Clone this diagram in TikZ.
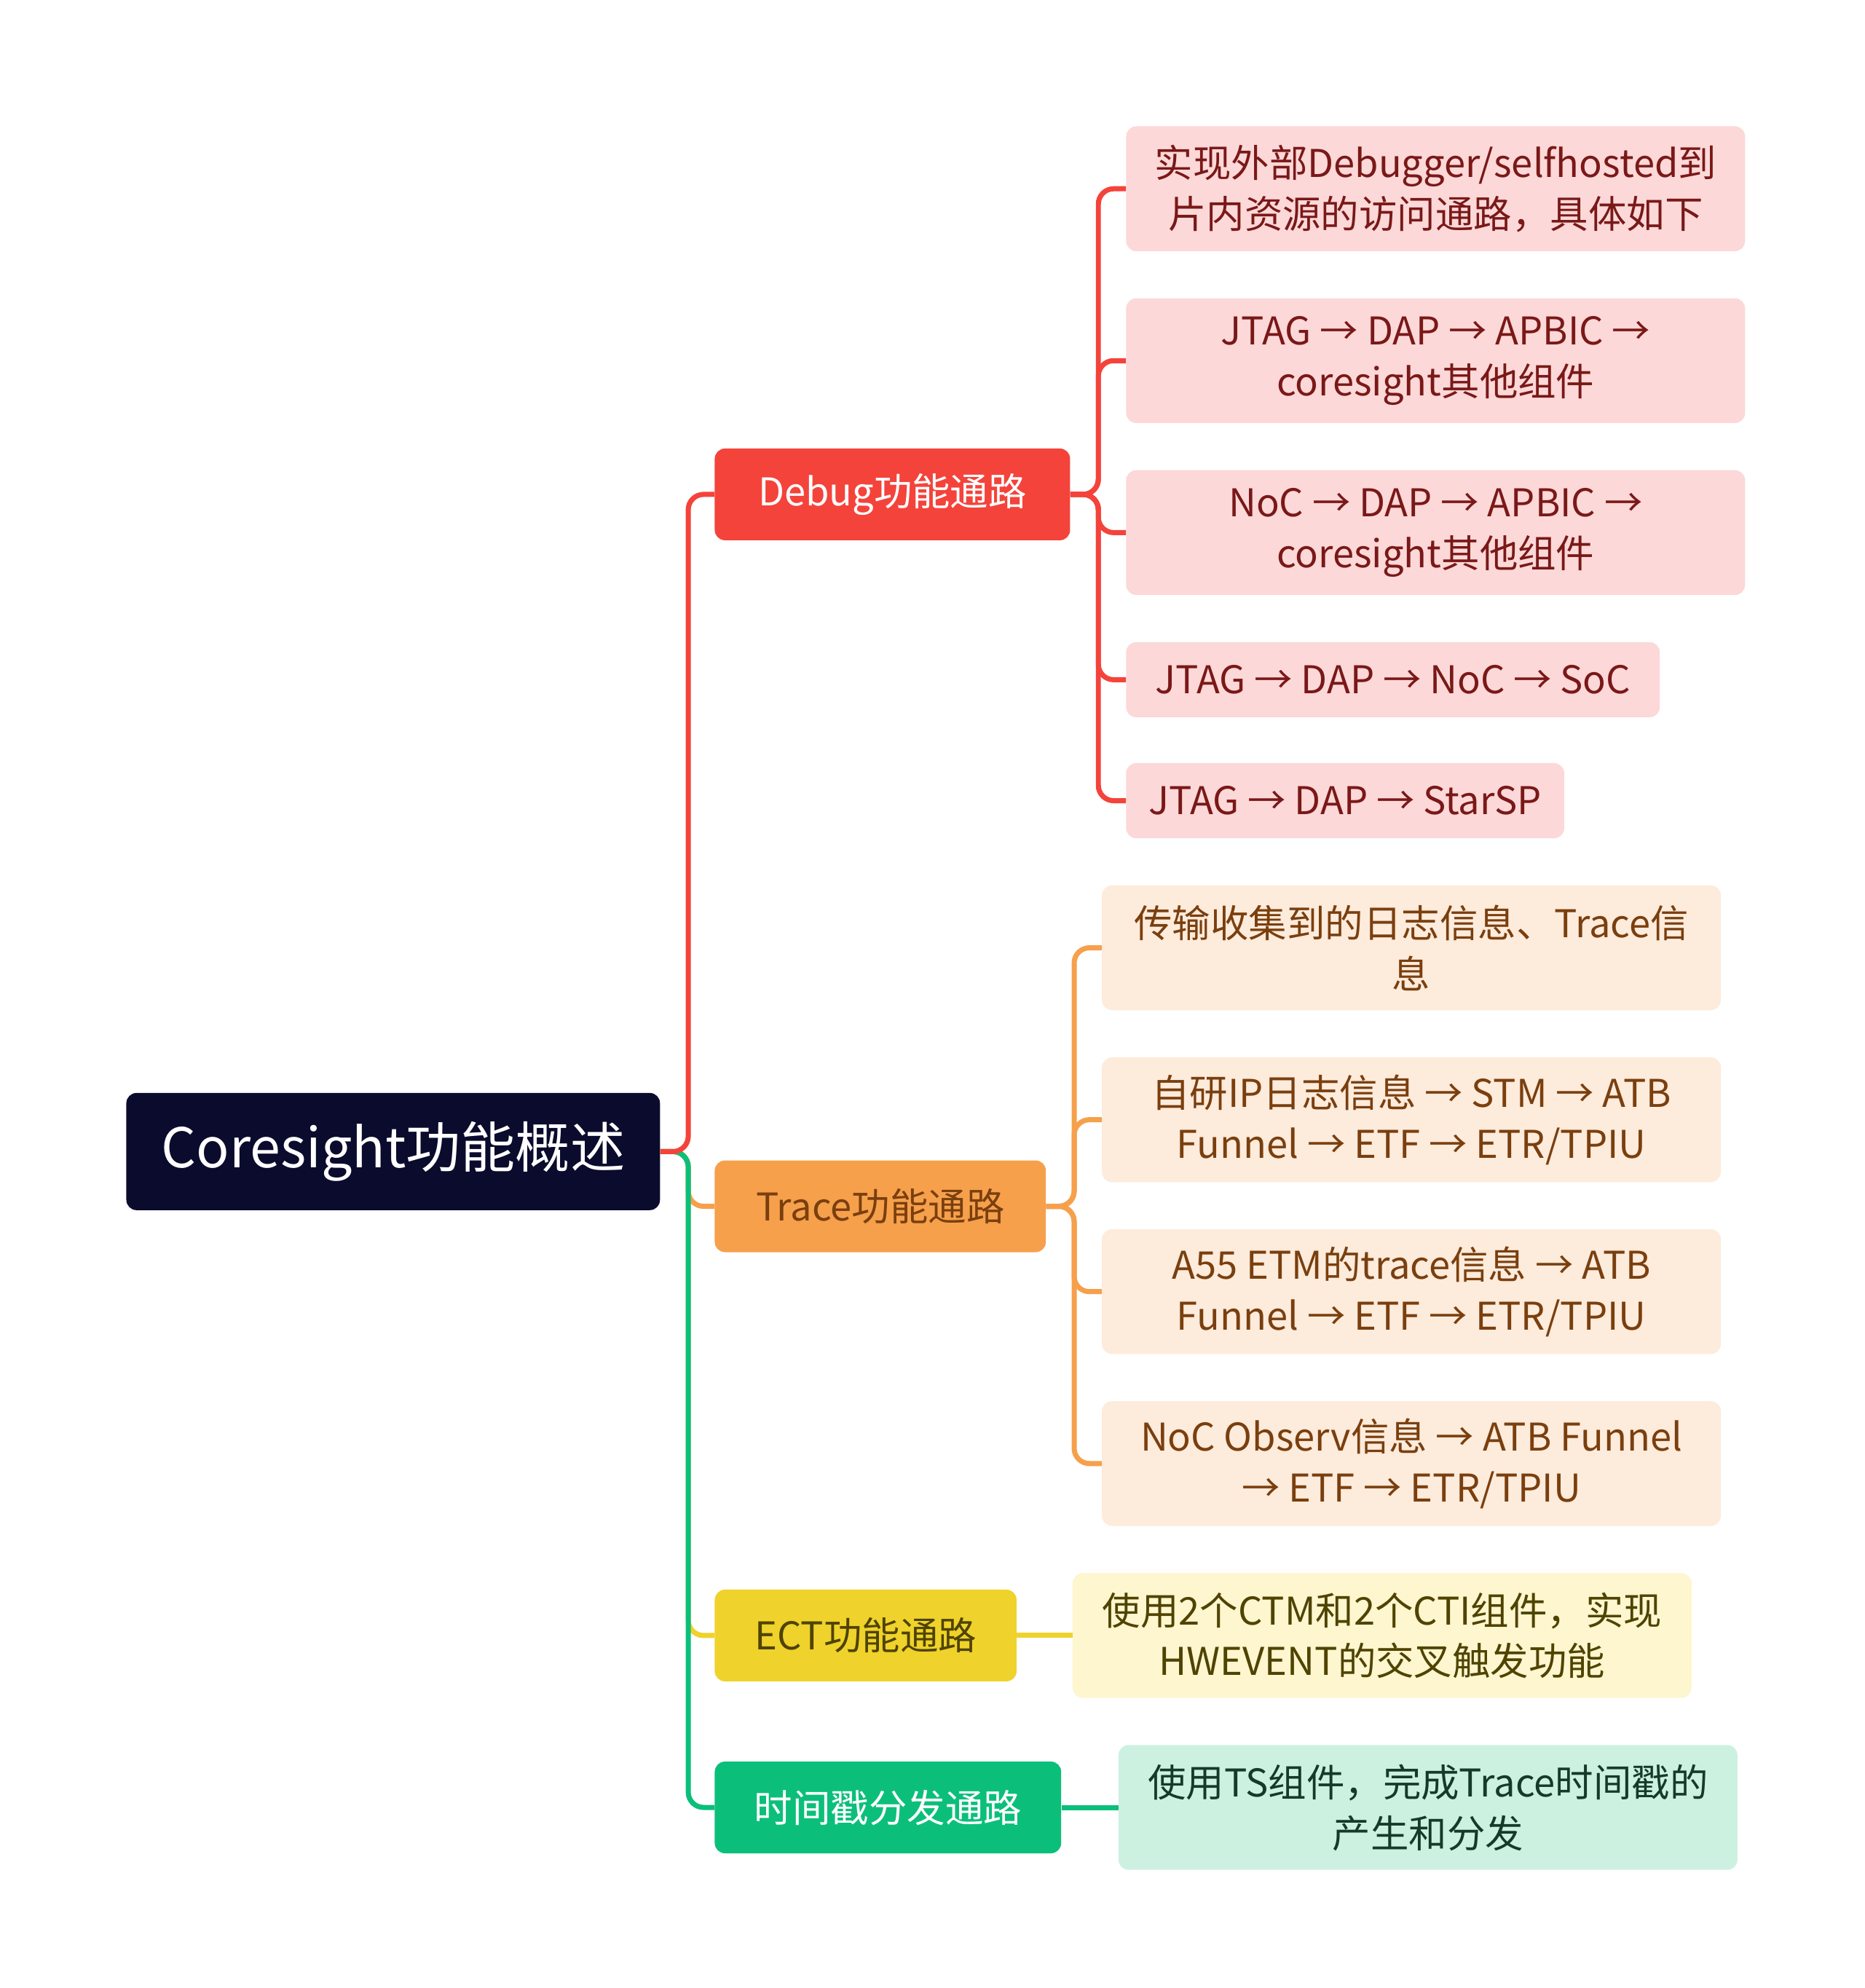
\documentclass[tikz,border=0pt]{standalone}
\usepackage{fontspec}
\setmainfont{Noto Sans CJK SC}
\begin{document}
\begin{tikzpicture}[x=1pt,y=-1pt,
  box/.style={anchor=north west,rounded corners=8pt,inner sep=0pt,align=center,font=\fontsize{30}{40}\selectfont},
  lv1/.style={box,minimum height=72pt},
  lv2/.style={box,minimum height=98pt},
  lv2s/.style={box,minimum height=59pt},
  ln/.style={line width=4pt,rounded corners=12pt}]
\definecolor{cRoot}{HTML}{0B0B2E}
\definecolor{cRed}{HTML}{F4433B}
\definecolor{cOra}{HTML}{F6A04C}
\definecolor{cYel}{HTML}{EFD22B}
\definecolor{cGrn}{HTML}{0BBF7A}
\definecolor{fRed}{HTML}{FCD8D8}
\definecolor{fOra}{HTML}{FDEBDC}
\definecolor{fYel}{HTML}{FDF6CF}
\definecolor{fGrn}{HTML}{CDF1E1}
\definecolor{tRed}{HTML}{7A1818}
\definecolor{tOra}{HTML}{7A3F0E}
\definecolor{tYel}{HTML}{4F4300}
\definecolor{tGrn}{HTML}{153A2A}
\useasboundingbox[fill=white] (0,0) rectangle (1464,1561);

\node[box,fill=cRoot,text=white,minimum width=419pt,minimum height=92pt,font=\fontsize{43}{50}\selectfont] (root) at (99,858) {Coresight功能概述};

\node[lv1,fill=cRed,text=white,minimum width=279pt] (dbg) at (561,352) {Debug功能通路};
\node[lv1,fill=cOra,text=tOra,minimum width=260pt] (trc) at (561,911) {Trace功能通路};
\node[lv1,fill=cYel,text=tYel,minimum width=237pt] (ect) at (561,1248) {ECT功能通路};
\node[lv1,fill=cGrn,text=white,minimum width=272pt] (ts) at (561,1383) {时间戳分发通路};

\node[lv2,fill=fRed,text=tRed,minimum width=486pt] (d1) at (884,99) {实现外部Debugger/selfhosted到\\片内资源的访问通路，具体如下};
\node[lv2,fill=fRed,text=tRed,minimum width=486pt] (d2) at (884,234) {JTAG → DAP → APBIC →\\coresight其他组件};
\node[lv2,fill=fRed,text=tRed,minimum width=486pt] (d3) at (884,369) {NoC → DAP → APBIC →\\coresight其他组件};
\node[lv2s,fill=fRed,text=tRed,minimum width=419pt] (d4) at (884,504) {JTAG → DAP → NoC → SoC};
\node[lv2s,fill=fRed,text=tRed,minimum width=344pt] (d5) at (884,599) {JTAG → DAP → StarSP};

\node[lv2,fill=fOra,text=tOra,minimum width=486pt] (t1) at (865,695) {传输收集到的日志信息、Trace信\\息};
\node[lv2,fill=fOra,text=tOra,minimum width=486pt] (t2) at (865,830) {自研IP日志信息 → STM → ATB\\Funnel → ETF → ETR/TPIU};
\node[lv2,fill=fOra,text=tOra,minimum width=486pt] (t3) at (865,965) {A55 ETM的trace信息 → ATB\\Funnel → ETF → ETR/TPIU};
\node[lv2,fill=fOra,text=tOra,minimum width=486pt] (t4) at (865,1100) {NoC Observ信息 → ATB Funnel\\→ ETF → ETR/TPIU};

\node[lv2,fill=fYel,text=tYel,minimum width=486pt] (e1) at (842,1235) {使用2个CTM和2个CTI组件，实现\\HWEVENT的交叉触发功能};
\node[lv2,fill=fGrn,text=tGrn,minimum width=486pt] (g1) at (878,1370) {使用TS组件，完成Trace时间戳的\\产生和分发};

\draw[ln,cYel] (root.east) -- ++(22,0) |- (ect.west);
\draw[ln,cOra] (root.east) -- ++(22,0) |- (trc.west);
\draw[ln,cGrn] (root.east) -- ++(22,0) |- (ts.west);
\draw[ln,cRed] (root.east) -- ++(22,0) |- (dbg.west);

\foreach \c in {d1,d2,d3,d4,d5}
  \draw[ln,cRed] (dbg.east) -- ++(22,0) |- (\c.west);
\foreach \c in {t1,t2,t3,t4}
  \draw[ln,cOra] (trc.east) -- ++(22,0) |- (\c.west);
\draw[ln,cYel] (ect.east) -- (e1.west);
\draw[ln,cGrn] (ts.east) -- (g1.west);
\end{tikzpicture}
\end{document}
